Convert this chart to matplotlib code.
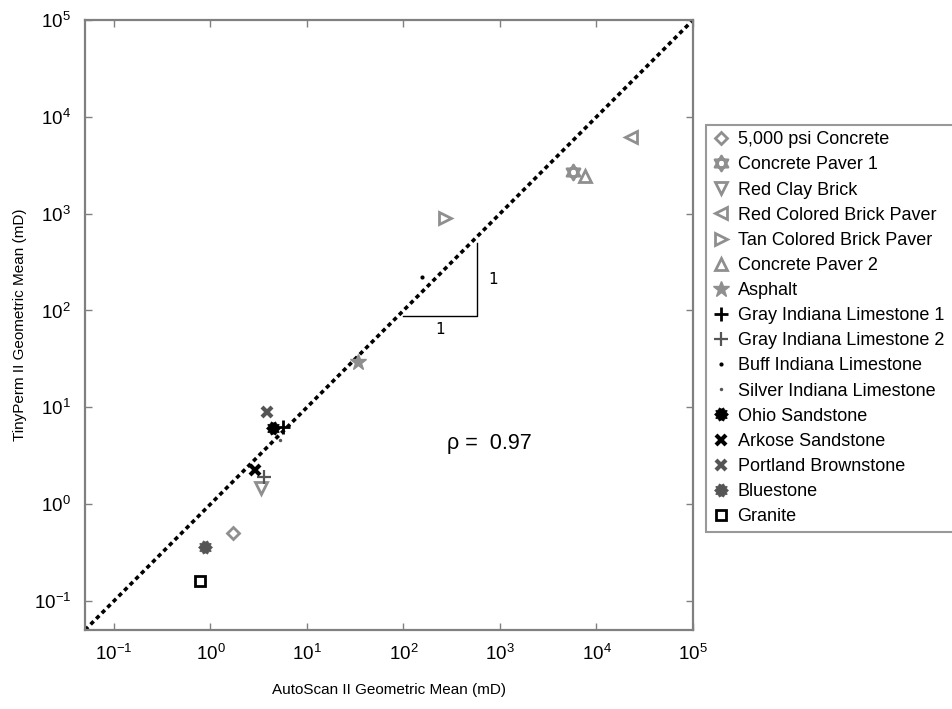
import numpy as np
import matplotlib
matplotlib.use("Agg")
import matplotlib.pyplot as plt
from matplotlib.path import Path

plt.rcParams['font.family'] = ['Liberation Sans', 'DejaVu Sans']

# ---- data ----
materials = ["5,000 psi Concrete", "Concrete Paver 1", "Red Clay Brick",
             "Red Colored Brick Paver", "Tan Colored Brick Paver", "Concrete Paver 2",
             "Asphalt", "Gray Indiana Limestone 1", "Gray Indiana Limestone 2",
             "Buff Indiana Limestone", "Silver Indiana Limestone", "Ohio Sandstone",
             "Arkose Sandstone", "Portland Brownstone", "Bluestone", "Granite"]
autoscan = [1.70, 5700, 3.3, 22700, 271, 7600, 34, 5.6, 3.56, 157, 5.3, 4.4, 2.87, 3.82, 0.87, 0.775]
tinyperm = [0.50, 2670, 1.47, 6140, 893, 2425, 29.7, 6.3, 1.92, 224, 4.6, 6.15, 2.26, 9.0, 0.36, 0.161]
rho = 0.97
x_ticks = [1e-1, 1e0, 1e1, 1e2, 1e3, 1e4, 1e5]
tick_labels = [r'$\mathregular{10^{-1}}$', r'$\mathregular{10^{0}}$', r'$\mathregular{10^{1}}$',
               r'$\mathregular{10^{2}}$', r'$\mathregular{10^{3}}$', r'$\mathregular{10^{4}}$',
               r'$\mathregular{10^{5}}$']
lims = [10**-1.3, 1e5]
slope_x = [100, 580]
slope_y = [87, 500]

# ---- custom markers ----
def hexagram():
    t1 = [(np.cos(np.pi/2 + k*2*np.pi/3), np.sin(np.pi/2 + k*2*np.pi/3)) for k in range(3)]
    t2 = [(np.cos(-np.pi/2 + k*2*np.pi/3), np.sin(-np.pi/2 + k*2*np.pi/3)) for k in range(3)]
    verts = t1 + [t1[0]] + t2 + [t2[0]]
    codes = [Path.MOVETO, Path.LINETO, Path.LINETO, Path.CLOSEPOLY] * 2
    return Path(verts, codes)

def gear(n=10, r2=0.78):
    verts = []
    for k in range(2*n):
        r = 1.0 if k % 2 == 0 else r2
        a = np.pi*k/n
        verts.append((r*np.cos(a), r*np.sin(a)))
    verts.append(verts[0])
    codes = [Path.MOVETO] + [Path.LINETO]*(2*n-1) + [Path.CLOSEPOLY]
    return Path(verts, codes)

G = '#8f8f8f'
D = '#555555'
K = 'black'
styles = [
    dict(marker='D', ms=6.5, mfc='none', mec=G, mew=2.0),
    dict(marker=hexagram(), ms=11, mfc='none', mec=G, mew=1.8),
    dict(marker='v', ms=9, mfc='none', mec=G, mew=2.0),
    dict(marker='<', ms=9, mfc='none', mec=G, mew=2.0),
    dict(marker='>', ms=9, mfc='none', mec=G, mew=2.0),
    dict(marker='^', ms=9, mfc='none', mec=G, mew=2.0),
    dict(marker='*', ms=12, mfc=G, mec=G, mew=1.0),
    dict(marker='+', ms=10, mfc=K, mec=K, mew=2.0),
    dict(marker='+', ms=10, mfc=D, mec=D, mew=1.6),
    dict(marker='o', ms=3, mfc=K, mec=K, mew=0),
    dict(marker='o', ms=2.5, mfc=D, mec=D, mew=0),
    dict(marker=gear(), ms=10, mfc=K, mec=K, mew=0.5),
    dict(marker='x', ms=7.5, mfc=K, mec=K, mew=3.0),
    dict(marker='x', ms=7.5, mfc=D, mec=D, mew=3.0),
    dict(marker=gear(), ms=10, mfc=D, mec=D, mew=0.5),
    dict(marker='s', ms=7, mfc='none', mec=K, mew=2.0),
]

fig = plt.figure(figsize=(9.53, 7.09), dpi=100)
ax = fig.add_axes([85/953, 1 - 630/709, (693-85)/953, (630-20)/709])
ax.set_xscale('log')
ax.set_yscale('log')
ax.set_xlim(lims)
ax.set_ylim(lims)

ax.plot(lims, lims, color='black', linestyle=(0, (1.2, 1.0)), linewidth=2.6, zorder=1)

handles = []
for name, xv, yv, st in zip(materials, autoscan, tinyperm, styles):
    h, = ax.plot([xv], [yv], linestyle='none', label=name, zorder=3, **st)
    handles.append(h)

# slope triangle
ax.plot([slope_x[0], slope_x[1], slope_x[1]], [slope_y[0], slope_y[0], slope_y[1]],
        color='black', linewidth=1.0)
ax.text(np.sqrt(slope_x[0]*slope_x[1]), slope_y[0]/1.38, '1', ha='center', va='center',
        fontsize=11, family=['DejaVu Sans'])
ax.text(slope_x[1]*1.45, np.sqrt(slope_y[0]*slope_y[1])*1.0, '1', ha='center', va='center',
        fontsize=11, family=['DejaVu Sans'])
ax.text(0.595, 0.305, 'ρ =  %.2f' % rho, transform=ax.transAxes, fontsize=15.5,
        ha='left', va='center')

ax.set_xticks(x_ticks)
ax.set_xticklabels(tick_labels)
ax.set_yticks(x_ticks)
ax.set_yticklabels(tick_labels)
ax.minorticks_off()
ax.tick_params(which='major', direction='in', length=5, width=1.0, color='#808080',
               top=True, right=True, labelsize=13.5, pad=10)
for s in ax.spines.values():
    s.set_color('#808080')
    s.set_linewidth(1.6)

ax.set_xlabel('AutoScan II Geometric Mean (mD)', fontsize=11, labelpad=14)
ax.set_ylabel('TinyPerm II Geometric Mean (mD)', fontsize=11, labelpad=5)

leg = fig.legend(handles=handles, loc='upper left',
                 bbox_to_anchor=(706/953, 1 - 125/709, 260/953, 0.0), mode='expand',
                 bbox_transform=fig.transFigure, fontsize=13, frameon=True,
                 fancybox=False, edgecolor='#808080', labelspacing=0.45,
                 handletextpad=0.4, handlelength=1.0, borderpad=0.35, borderaxespad=0)
leg.get_frame().set_linewidth(1.5)

fig.savefig('out.png', dpi=100)
